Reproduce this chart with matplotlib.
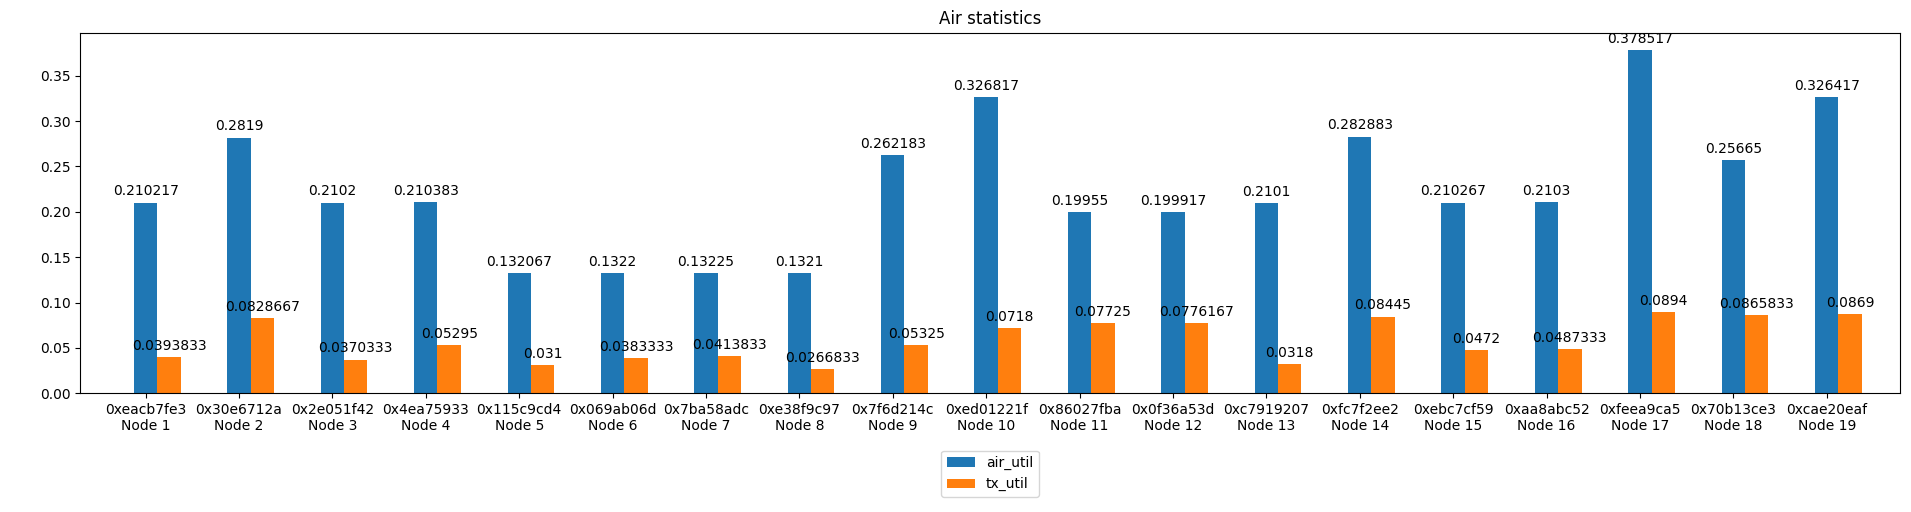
import numpy as np
import matplotlib
matplotlib.use("Agg")
import matplotlib.pyplot as plt

node_ids = ["0xeacb7fe3", "0x30e6712a", "0x2e051f42", "0x4ea75933", "0x115c9cd4",
            "0x069ab06d", "0x7ba58adc", "0xe38f9c97", "0x7f6d214c", "0xed01221f",
            "0x86027fba", "0x0f36a53d", "0xc7919207", "0xfc7f2ee2", "0xebc7cf59",
            "0xaa8abc52", "0xfeea9ca5", "0x70b13ce3", "0xcae20eaf"]
node_names = [f"Node {i}" for i in range(1, 20)]

air_util = [0.210217, 0.2819, 0.2102, 0.210383, 0.132067, 0.1322, 0.13225, 0.1321,
            0.262183, 0.326817, 0.19955, 0.199917, 0.2101, 0.282883, 0.210267,
            0.2103, 0.378517, 0.25665, 0.326417]
tx_util = [0.0393833, 0.0828667, 0.0370333, 0.05295, 0.031, 0.0383333, 0.0413833,
           0.0266833, 0.05325, 0.0718, 0.07725, 0.0776167, 0.0318, 0.08445, 0.0472,
           0.0487333, 0.0894, 0.0865833, 0.0869]

x = np.arange(len(node_ids))
width = 0.25

fig, ax = plt.subplots(figsize=(19.11, 5.12), dpi=100)
b1 = ax.bar(x, air_util, width, label="air_util")
b2 = ax.bar(x + width, tx_util, width, label="tx_util")
ax.bar_label(b1, padding=3)
ax.bar_label(b2, padding=3)

ax.set_title("Air statistics")
ax.set_xticks(x)
ax.set_xticklabels([f"{a}\n{b}" for a, b in zip(node_ids, node_names)])
ax.set_xlim(-0.7, 18.78)
ax.legend(loc="upper center", bbox_to_anchor=(0.5, -0.14))

fig.subplots_adjust(left=0.042, right=0.994, top=0.936, bottom=0.232)
fig.savefig("out.png")
